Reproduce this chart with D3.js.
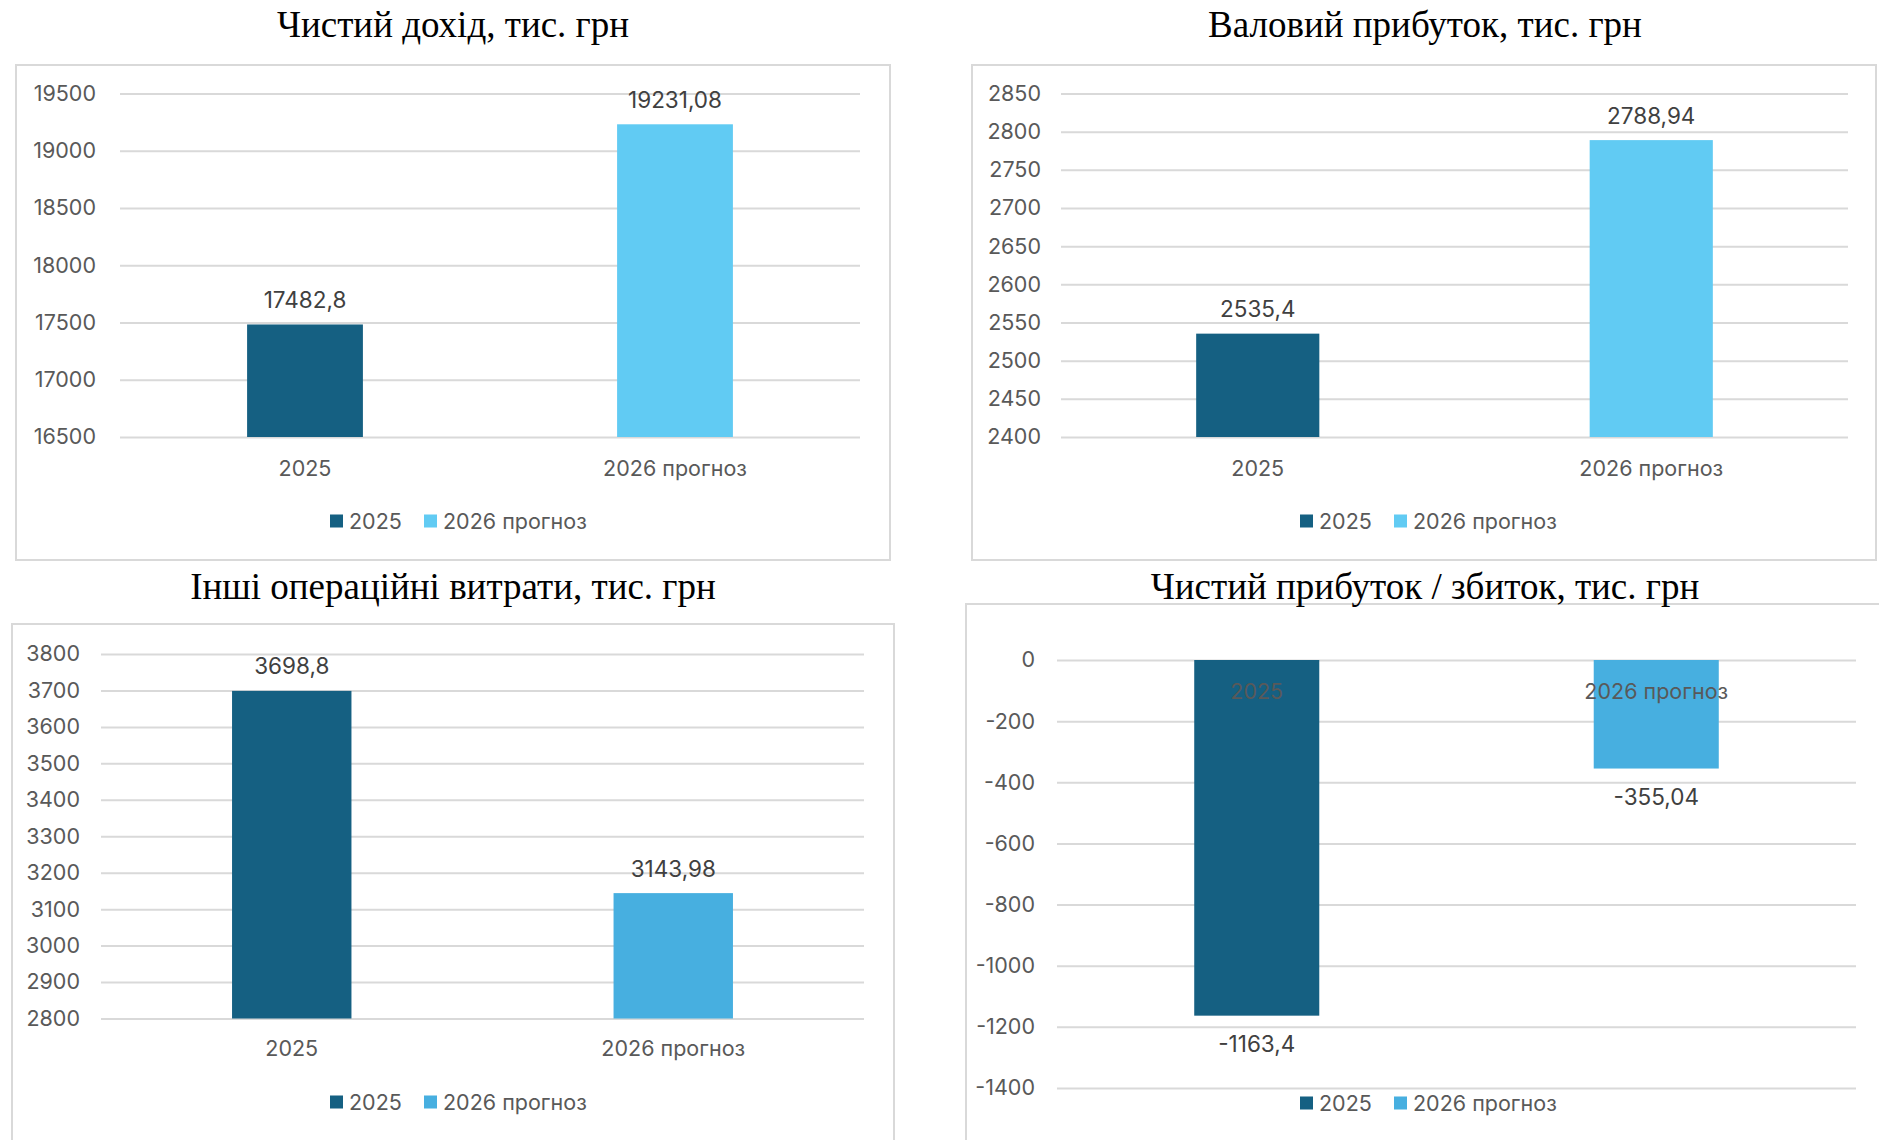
<!DOCTYPE html>
<html lang="uk">
<head>
<meta charset="utf-8">
<script src="https://cdn.jsdelivr.net/npm/d3@7"></script>
<style>
  html, body { margin: 0; padding: 0; background: #ffffff; }
  svg { display: block; }
</style>
</head>
<body>
<svg id="chart" width="1879" height="1140"></svg>
<script>
// Categories and series
const categories = ["2025", "2026 прогноз"];

const netRevenue = [17482.8, 19231.08];     // Чистий дохід
const grossProfit = [2535.4, 2788.94];      // Валовий прибуток
const otherOpex = [3698.8, 3143.98];        // Інші операційні витрати
const netResult = [-1163.4, -355.04];       // Чистий прибуток / збиток

const titles = [
  "Чистий дохід, тис. грн",
  "Валовий прибуток, тис. грн",
  "Інші операційні витрати, тис. грн",
  "Чистий прибуток / збиток, тис. грн"
];

// Value-axis ticks
const ticksNetRevenue = [16500, 17000, 17500, 18000, 18500, 19000, 19500];
const ticksGrossProfit = [2400, 2450, 2500, 2550, 2600, 2650, 2700, 2750, 2800, 2850];
const ticksOtherOpex = [2800, 2900, 3000, 3100, 3200, 3300, 3400, 3500, 3600, 3700, 3800];
const ticksNetResult = [-1400, -1200, -1000, -800, -600, -400, -200, 0];

// Colours
const colorDark = "#156082";
const colorLightTop = "#61CBF3";
const colorLightBottom = "#47AFE0";

// Panel geometry
const panels = [
  { values: netRevenue, ticks: ticksNetRevenue, title: titles[0],
    colors: [colorDark, colorLightTop],
    box: { x: 16, y: 65, w: 874, h: 495 },
    plot: { x0: 120, x1: 860, yTop: 93.5, yBot: 437 },
    tickX: 96, titleX: 453, titleY: 24, catY: 468, legendY: 521, legendX: 330,
    labelPos: "above" },
  { values: grossProfit, ticks: ticksGrossProfit, title: titles[1],
    colors: [colorDark, colorLightTop],
    box: { x: 972, y: 65, w: 904, h: 495 },
    plot: { x0: 1061, x1: 1848, yTop: 93.5, yBot: 437 },
    tickX: 1041, titleX: 1425, titleY: 24, catY: 468, legendY: 521, legendX: 1300,
    labelPos: "above" },
  { values: otherOpex, ticks: ticksOtherOpex, title: titles[2],
    colors: [colorDark, colorLightBottom],
    box: { x: 12, y: 624, w: 882, h: 560 },
    plot: { x0: 101, x1: 864, yTop: 654, yBot: 1018.5 },
    tickX: 80, titleX: 453, titleY: 586, catY: 1048, legendY: 1102, legendX: 330,
    labelPos: "above" },
  { values: netResult, ticks: ticksNetResult, title: titles[3],
    colors: [colorDark, colorLightBottom],
    box: { x: 966, y: 604, w: 940, h: 600 },
    plot: { x0: 1057, x1: 1856, yTop: 660, yBot: 1088 },
    tickX: 1035, titleX: 1425, titleY: 586, catY: 691, legendY: 1103, legendX: 1300,
    labelPos: "below" }
];

const svg = d3.select("#chart");
const sansFont = "Inter, 'Open Sans', 'Noto Sans', sans-serif";
const serifFont = "'Liberation Serif', 'Times New Roman', serif";
const fmt = v => String(v).replace(".", ",");
const textSize = 21.5;

panels.forEach(p => {
  const g = svg.append("g");

  // Chart-area frame
  g.append("rect")
    .attr("x", p.box.x).attr("y", p.box.y)
    .attr("width", p.box.w).attr("height", p.box.h)
    .attr("fill", "#ffffff")
    .attr("stroke", "#d9d9d9").attr("stroke-width", 2);

  // Title
  g.append("text")
    .attr("x", p.titleX).attr("y", p.titleY)
    .attr("text-anchor", "middle").attr("dominant-baseline", "central")
    .attr("font-family", serifFont).attr("font-size", 37)
    .attr("fill", "#000000")
    .text(p.title);

  const x = d3.scaleBand().domain(categories)
    .range([p.plot.x0, p.plot.x1]).paddingInner(0).paddingOuter(0);
  const yMin = d3.min(p.ticks), yMax = d3.max(p.ticks);
  const y = d3.scaleLinear().domain([yMin, yMax]).range([p.plot.yBot, p.plot.yTop]);
  const base = yMin <= 0 && yMax >= 0 ? 0 : yMin;

  // Value axis with full-width gridlines
  const yAxis = d3.axisLeft(y).tickValues(p.ticks)
    .tickSize(-(p.plot.x1 - p.plot.x0)).tickFormat(d => String(d));
  const ag = g.append("g")
    .attr("transform", `translate(${p.plot.x0},0)`)
    .call(yAxis);
  ag.select(".domain").remove();
  ag.selectAll(".tick line").attr("stroke", "#d9d9d9").attr("stroke-width", 2);
  ag.selectAll(".tick text")
    .attr("x", p.tickX - p.plot.x0)
    .attr("text-anchor", "end")
    .attr("font-family", sansFont).attr("font-size", textSize)
    .attr("fill", "#595959");

  // Bars
  const barW = x.bandwidth() * 0.313;
  const bars = p.values.map((v, i) => ({ v, c: categories[i], color: p.colors[i] }));
  g.selectAll("rect.bar").data(bars).enter().append("rect")
    .attr("class", "bar")
    .attr("x", d => x(d.c) + x.bandwidth() / 2 - barW / 2)
    .attr("y", d => Math.min(y(d.v), y(base)))
    .attr("width", barW)
    .attr("height", d => Math.abs(y(base) - y(d.v)))
    .attr("fill", d => d.color);

  // Value labels
  g.selectAll("text.val").data(bars).enter().append("text")
    .attr("class", "val")
    .attr("x", d => x(d.c) + x.bandwidth() / 2)
    .attr("y", d => p.labelPos === "above" ? y(d.v) - 25 : y(d.v) + 28)
    .attr("text-anchor", "middle").attr("dominant-baseline", "central")
    .attr("font-family", sansFont).attr("font-size", 22.5)
    .attr("fill", "#404040")
    .text(d => fmt(d.v));

  // Category labels
  g.selectAll("text.cat").data(categories).enter().append("text")
    .attr("class", "cat")
    .attr("x", d => x(d) + x.bandwidth() / 2)
    .attr("y", p.catY)
    .attr("text-anchor", "middle").attr("dominant-baseline", "central")
    .attr("font-family", sansFont).attr("font-size", textSize)
    .attr("fill", "#595959")
    .text(d => d);

  // Legend
  const lg = g.append("g").attr("transform", `translate(${p.legendX},${p.legendY})`);
  const offsets = [0, 94];
  categories.forEach((c, i) => {
    lg.append("rect")
      .attr("x", offsets[i]).attr("y", -6.5)
      .attr("width", 13).attr("height", 13)
      .attr("fill", p.colors[i]);
    lg.append("text")
      .attr("x", offsets[i] + 19).attr("y", 0)
      .attr("dominant-baseline", "central")
      .attr("font-family", sansFont).attr("font-size", textSize)
      .attr("fill", "#595959")
      .text(c);
  });
});
</script>
</body>
</html>
